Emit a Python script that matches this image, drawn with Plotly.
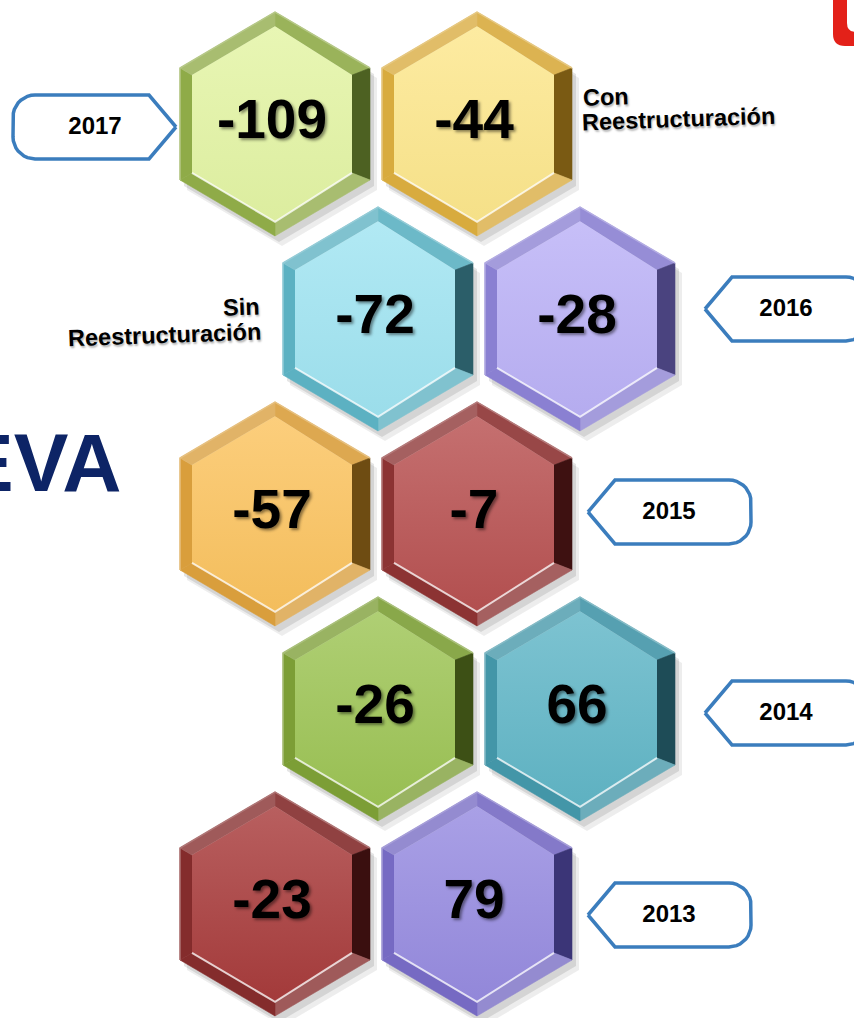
import numpy as np
import plotly.graph_objects as go

# ---------------- data ----------------
years = ["2017", "2016", "2015", "2014", "2013"]
sin_values = [-109, -72, -57, -26, -23]      # left column (Sin Reestructuración)
con_values = [-44, -28, -7, 66, 79]          # right column (Con Reestructuración)
sin_label = ["Sin", "Reestructuración"]
con_label = ["Con", "Reestructuración"]
title_text = "EVA"

# ---------------- styles ----------------
sin_fill = ["#e3f4a4", "#a0e4f1", "#fbc35f", "#9dc455", "#a83c3c"]
sin_edge = ["#8fab48", "#5cb1c2", "#d99e3c", "#7c9e36", "#842c2c"]
sin_dark = ["#4d6122", "#2b5e69", "#6e4c12", "#3d5015", "#3a0f0f"]
con_fill = ["#fde78c", "#bbb1f6", "#b85151", "#61b6c7", "#968be0"]
con_edge = ["#d8ab3e", "#8a80d2", "#8c3333", "#4396a8", "#766ac3"]
con_dark = ["#7a5a13", "#4a437f", "#3e1111", "#1e4c57", "#3b3577"]

W, H = 854, 1018
X0, DX, SHIFT = 275, 202, 103
Y0, DY = 124, 195
A, R = 95, 112
BEVEL = 12
TAG_GAP = [4, 30, 16, 30, 16]
TAG_DY = [3, -10, -2, 4, 11]
TAG_BLUE = "#3b7dbd"
NAVY = "#0d2466"
NUM_FONT = "Liberation Sans, Arial"
TXT_FONT = "Liberation Sans, Arial"


def hx(c):
    c = c.lstrip("#")
    return np.array([int(c[i:i + 2], 16) for i in (0, 2, 4)], dtype=float)


def mix(c1, c2, t):
    v = hx(c1) * (1 - t) + hx(c2) * t
    return "#%02x%02x%02x" % tuple(int(round(x)) for x in v)


def hex_pts(cx, cy, a, r):
    return [(cx, cy - r), (cx + a, cy - r / 2), (cx + a, cy + r / 2),
            (cx, cy + r), (cx - a, cy + r / 2), (cx - a, cy - r / 2)]


def poly(pts, **kw):
    xs = [p[0] for p in pts] + [pts[0][0]]
    ys = [p[1] for p in pts] + [pts[0][1]]
    return go.Scatter(x=xs, y=ys, mode="lines", fill="toself",
                      hoverinfo="skip", showlegend=False, **kw)


fig = go.Figure()


def add_hex(cx, cy, value, fill, edge, dark):
    for (ox, oy, al) in [(7, 10, 0.07), (4, 6, 0.10)]:
        fig.add_trace(poly(hex_pts(cx + ox, cy + oy, A, R),
                           fillcolor="rgba(0,0,0,%.2f)" % al, line=dict(width=0)))
    vo = hex_pts(cx, cy, A, R)
    s = (A - BEVEL) / A
    vi = hex_pts(cx, cy, A * s, R * s)
    vi[1] = (vi[1][0] - 6, vi[1][1])
    vi[2] = (vi[2][0] - 6, vi[2][1])
    facet_cols = [mix(edge, "#ffffff", 0.10), dark, mix(edge, "#ffffff", 0.22),
                  edge, edge, mix(edge, "#ffffff", 0.22)]
    for k in range(6):
        k2 = (k + 1) % 6
        fig.add_trace(poly([vo[k], vo[k2], vi[k2], vi[k]],
                           fillcolor=facet_cols[k],
                           line=dict(width=0.6, color=facet_cols[k])))
    top = cy - R * s
    bot = cy + R * s
    fig.add_trace(poly(vi, fillcolor=fill, line=dict(width=0),
                       fillgradient=dict(type="vertical", start=top, stop=bot,
                                         colorscale=[[0, mix(fill, "#ffffff", 0.18)],
                                                     [1, mix(fill, "#000000", 0.03)]])))
    fig.add_trace(go.Scatter(x=[vi[2][0], vi[3][0], vi[4][0]],
                             y=[vi[2][1], vi[3][1], vi[4][1]], mode="lines",
                             line=dict(color="rgba(255,255,255,0.75)", width=2),
                             hoverinfo="skip", showlegend=False))
    fig.add_trace(go.Scatter(x=[vo[4][0], vo[5][0], vo[0][0], vo[1][0]],
                             y=[vo[4][1], vo[5][1], vo[0][1], vo[1][1]], mode="lines",
                             line=dict(color=mix(edge, "#ffffff", 0.35), width=1.5),
                             hoverinfo="skip", showlegend=False))
    fig.add_trace(go.Scatter(x=[cx - 3], y=[cy], mode="text", text=[str(value)],
                             textposition="middle center",
                             textfont=dict(family=NUM_FONT, size=55, color="#000000",
                                           weight="bold",
                                           shadow="2px 2px 3px rgba(0,0,0,0.45)"),
                             hoverinfo="skip", showlegend=False))


def tag_pts(xt, yc, direction, L=163, h=64, d=27, rc=22):
    hh = h / 2
    pts = [(0, 0), (-d, hh), (-(L - rc), hh)]
    for th in np.linspace(np.pi / 2, np.pi, 10)[1:]:
        pts.append((-(L - rc) + rc * np.cos(th), (hh - rc) + rc * np.sin(th)))
    for th in np.linspace(np.pi, 1.5 * np.pi, 10):
        pts.append((-(L - rc) + rc * np.cos(th), -(hh - rc) + rc * np.sin(th)))
    pts.append((-d, -hh))
    return [(xt + direction * u, yc + v) for (u, v) in pts]


for i, yr in enumerate(years):
    off = SHIFT if i % 2 == 1 else 0
    cy = Y0 + i * DY
    cx_l = X0 + off
    cx_r = X0 + DX + off
    add_hex(cx_l, cy, sin_values[i], sin_fill[i], sin_edge[i], sin_dark[i])
    add_hex(cx_r, cy, con_values[i], con_fill[i], con_edge[i], con_dark[i])
    if i == 0:
        xt, dirn = cx_l - A - TAG_GAP[i], 1
    else:
        xt, dirn = cx_r + A + TAG_GAP[i], -1
    ty = cy + TAG_DY[i]
    fig.add_trace(poly(tag_pts(xt, ty, dirn), fillcolor="#ffffff",
                       line=dict(color=TAG_BLUE, width=3.5)))
    fig.add_trace(go.Scatter(x=[xt - dirn * 81], y=[ty + 1], mode="text", text=[yr],
                             textfont=dict(family=TXT_FONT, size=24, color="#000000",
                                           weight="bold"),
                             hoverinfo="skip", showlegend=False))

# series labels
con_x = X0 + DX + A + 8
for j, t in enumerate(con_label):
    fig.add_annotation(x=con_x, y=Y0 - 27 + j * 22, text=t, showarrow=False,
                       xanchor="left", yanchor="middle", textangle=-2,
                       font=dict(family=TXT_FONT, size=23.5, color="#000000", weight="bold",
                                 shadow="1px 2px 2px rgba(0,0,0,0.3)"))
sin_x = X0 + SHIFT - A - 20
for j, t in enumerate(sin_label):
    fig.add_annotation(x=sin_x, y=Y0 + DY - 12 + j * 28, text=t, showarrow=False,
                       xanchor="right", yanchor="middle", textangle=-2,
                       font=dict(family=TXT_FONT, size=23.5, color="#000000", weight="bold",
                                 shadow="1px 2px 2px rgba(0,0,0,0.3)"))

# big title fragment
fig.add_annotation(x=124, y=462, text=title_text, showarrow=False,
                   xanchor="right", yanchor="middle",
                   font=dict(family=NUM_FONT, size=82, color=NAVY, weight="bold"))

# corner logo fragment
fig.add_shape(type="path", xref="x", yref="y", layer="above",
              path="M833,0 L833,34 Q833,46 845,46 L856,46 L856,32 Q847,32 847,23 L847,0 Z",
              fillcolor="#e32119", line=dict(width=0))

fig.update_layout(width=W, height=H, margin=dict(l=0, r=0, t=0, b=0),
                  paper_bgcolor="#ffffff", plot_bgcolor="#ffffff", showlegend=False,
                  xaxis=dict(range=[0, W], visible=False, fixedrange=True),
                  yaxis=dict(range=[H, 0], visible=False, fixedrange=True))

fig.write_html("out.html", config={"displayModeBar": False, "staticPlot": True},
               post_script="document.body.style.margin='0px';")
